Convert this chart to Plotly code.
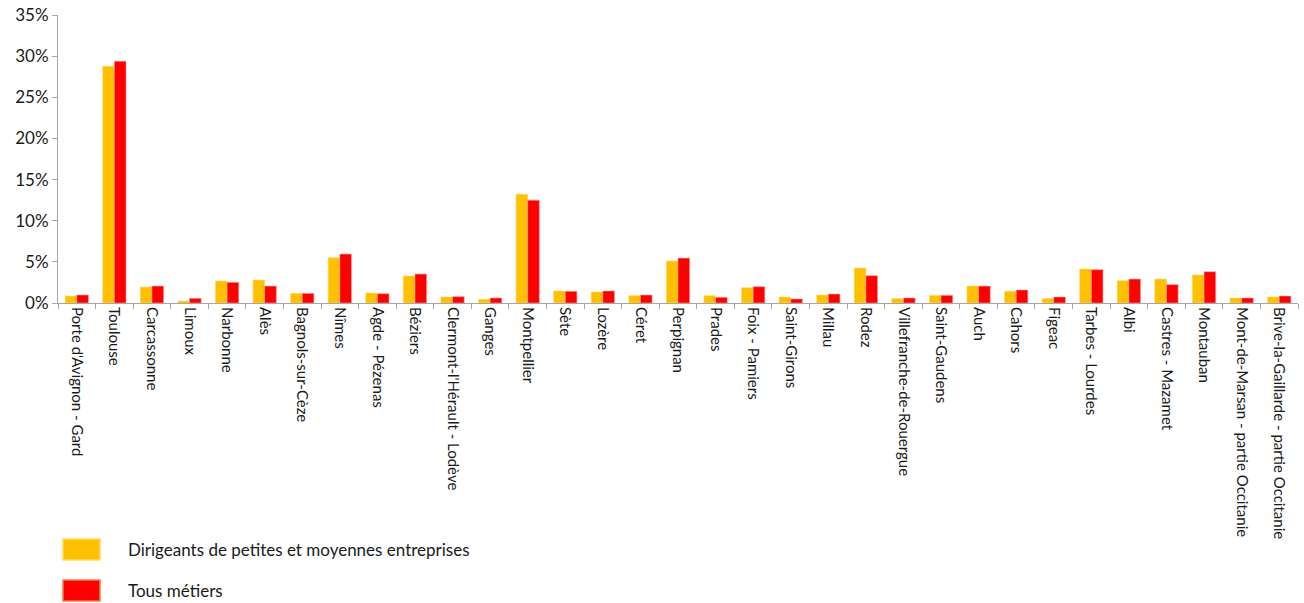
import plotly.graph_objects as go

categories = ["Porte d'Avignon - Gard", "Toulouse", "Carcassonne", "Limoux", "Narbonne", "Alès",
              "Bagnols-sur-Cèze", "Nîmes", "Agde - Pézenas", "Béziers", "Clermont-l'Hérault - Lodève",
              "Ganges", "Montpellier", "Sète", "Lozère", "Céret", "Perpignan", "Prades", "Foix - Pamiers",
              "Saint-Girons", "Millau", "Rodez", "Villefranche-de-Rouergue", "Saint-Gaudens", "Auch",
              "Cahors", "Figeac", "Tarbes - Lourdes", "Albi", "Castres - Mazamet", "Montauban",
              "Mont-de-Marsan - partie Occitanie", "Brive-la-Gaillarde - partie Occitanie"]

dirigeants = [0.85, 28.77, 1.94, 0.24, 2.67, 2.79, 1.17, 5.50, 1.21, 3.28, 0.73,
              0.45, 13.23, 1.46, 1.34, 0.89, 5.10, 0.89, 1.86, 0.73, 0.97, 4.25,
              0.53, 0.93, 2.06, 1.42, 0.53, 4.13, 2.71, 2.91, 3.40, 0.61, 0.73]

tous_metiers = [0.97, 29.38, 2.06, 0.57, 2.51, 2.06, 1.17, 5.95, 1.13, 3.52, 0.77,
                0.61, 12.50, 1.42, 1.46, 0.97, 5.46, 0.69, 1.98, 0.49, 1.09, 3.32,
                0.61, 0.93, 2.06, 1.58, 0.73, 4.05, 2.91, 2.23, 3.80, 0.61, 0.85]

series_names = ["Dirigeants de petites et moyennes entreprises", "Tous métiers"]
colors = ["#FFC000", "#FF0000"]
edge_colors = ["#FFD966", "#F4A0A0"]

FONT = "Lato, 'Open Sans', sans-serif"

fig = go.Figure()
for name, vals, c, ec in zip(series_names, [dirigeants, tous_metiers], colors, edge_colors):
    fig.add_trace(go.Bar(x=categories, y=vals, name=name,
                         marker=dict(color=c, line=dict(color=ec, width=0.6)),
                         showlegend=False))

FIG_W, FIG_H = 1304, 603
PLOT_L, PLOT_R, PLOT_T, PLOT_B = 58, 1298, 15, 303  # window pixels

H = float(PLOT_B - PLOT_T)
W = float(PLOT_R - PLOT_L)
def px_to_paper_y(y):
    return (PLOT_B - y) / H
def px_to_paper_x(x):
    return (x - PLOT_L) / W

legend_rows = [(539, 560), (580, 601)]
legend_edges = ["#FFD966", "#F08040"]
shapes = []
annotations = []
for (y0, y1), name, c, ec in zip(legend_rows, series_names, colors, legend_edges):
    shapes.append(dict(type="rect", xref="paper", yref="paper",
                       x0=px_to_paper_x(63), x1=px_to_paper_x(100),
                       y0=px_to_paper_y(y1), y1=px_to_paper_y(y0),
                       fillcolor=c, line=dict(color=ec, width=1.5)))
    annotations.append(dict(xref="paper", yref="paper", x=px_to_paper_x(126),
                            y=px_to_paper_y((y0 + y1) / 2), text=name, showarrow=False,
                            xanchor="left", yanchor="middle",
                            font=dict(family=FONT, size=17, color="#1a1a1a")))

fig.update_layout(
    width=FIG_W, height=FIG_H,
    margin=dict(l=PLOT_L, r=FIG_W - PLOT_R, t=PLOT_T, b=FIG_H - PLOT_B),
    barmode="group", bargap=0.38, bargroupgap=0,
    plot_bgcolor="white", paper_bgcolor="white",
    font=dict(family=FONT, size=15, color="#1a1a1a"),
    shapes=shapes, annotations=annotations,
    xaxis=dict(tickangle=90, showgrid=False, showline=True, linecolor="#a6a6a6", linewidth=1,
               ticks="outside", tickson="boundaries", ticklen=5, tickcolor="#a6a6a6",
               automargin=False,
               tickfont=dict(family=FONT, size=15, color="#1a1a1a")),
    yaxis=dict(range=[0, 35], dtick=5, ticksuffix="%", showgrid=False, zeroline=False,
               showline=True, linecolor="#a6a6a6", linewidth=1,
               ticks="outside", ticklen=5, tickcolor="#a6a6a6",
               automargin=False, ticklabeloverflow="allow",
               tickfont=dict(family=FONT, size=17, color="#1a1a1a")),
)

fig.write_html("out.html", config={"displayModeBar": False},
               post_script="document.body.style.margin='0';document.body.style.overflow='hidden';")
